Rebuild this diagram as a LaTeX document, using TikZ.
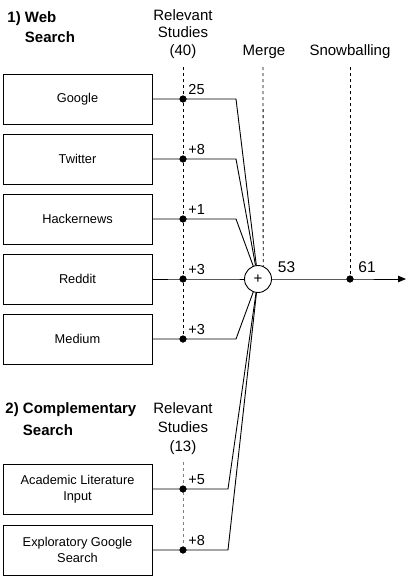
\documentclass[tikz,border=0pt]{standalone}
\usepackage{fontspec}
\setmainfont{Liberation Sans}
\usetikzlibrary{arrows.meta, positioning}

\begin{document}
\begin{tikzpicture}[x=1pt, y=-1pt, line width=0.9pt,
  every node/.style={font=\fontsize{15}{17.5}\selectfont},
  src/.style={draw, minimum width=149pt, minimum height=50pt, align=center,
              inner sep=2pt, font=\fontsize{12.8}{16.5}\selectfont},
  hit/.style={circle, fill=black, inner sep=0pt, minimum size=7pt},
  cnt/.style={anchor=base west, inner sep=0pt, xshift=5pt, yshift=5pt,
              font=\fontsize{14.5}{16}\selectfont},
  tot/.style={anchor=base west, inner sep=0pt, yshift=7pt,
              font=\fontsize{15.5}{17}\selectfont},
  hdr/.style={align=center, anchor=base, inner sep=0pt},
  sec/.style={align=left, anchor=base west, inner sep=0pt},
  guide/.style={dash pattern=on 3pt off 3pt, line width=0.9pt}]
  \useasboundingbox (0,0) rectangle (408,576);

  % Section titles and column headers
  \node[sec, font=\fontsize{15}{20}\selectfont\bfseries] (websec) at (7,42)
    {1) Web\\\phantom{1) }Search};
  \node[sec, font=\fontsize{15}{22}\selectfont\bfseries] (compsec) at (5,435)
    {2) Complementary\\\phantom{2) }Search};
  \node[hdr] (relweb) at (183,55) {Relevant\\Studies\\(40)};
  \node[hdr, font=\fontsize{15}{19}\selectfont] (relcomp) at (183,451)
    {Relevant\\Studies\\(13)};
  \node[hdr] (merge) at (264,55) {Merge};
  \node[hdr] (snow) at (350,55) {Snowballing};

  % Merge point
  \node[draw, circle, fill=white, minimum size=27pt, inner sep=0pt,
        font=\fontsize{15}{16}\selectfont] (sum) at (258,279) {+};

  % Web search sources
  \foreach \name/\txt/\y/\n in {google/Google/99/25, twitter/Twitter/159/+8,
      hacker/Hackernews/219/+1, reddit/Reddit/279/+3, medium/Medium/339/+3}{
    \node[src] (\name) at (77.5,\y) {\txt};
    \node[hit] (\name-hit) at (183,\y) {};
    \node[cnt] at (\name-hit.center) {\n};
    \coordinate (\name-bend) at (236,\y);
  }

  % Complementary search sources
  \foreach \name/\txt/\y/\n in {academic/Academic Literature\\Input/489/+5,
      explore/Exploratory Google\\Search/550/+8}{
    \node[src] (\name) at (77.5,\y) {\txt};
    \node[hit] (\name-hit) at (183,\y) {};
    \node[cnt] at (\name-hit.center) {\n};
    \coordinate (\name-bend) at (228,\y);
  }

  % Dashed guides
  \coordinate (relweb-top) at (183,67);
  \coordinate (relcomp-top) at (183,462);
  \coordinate (merge-top) at (263,67);
  \coordinate (snow-top) at (350,67);
  \node[hit] (snow-hit) at (350,279) {};
  \draw[guide] (relweb-top) -- (medium-hit.center);
  \draw[guide, gray] (relcomp-top) -- (explore-hit.center);
  \draw[guide] (merge-top) -- (sum.68);
  \draw[guide] (snow-top) -- (snow-hit.center);

  % Connectors into the merge point
  \foreach \name in {google, twitter, hacker, reddit, medium, academic, explore}
    \draw (\name) -- (\name-hit.center) -- (\name-bend) -- (sum);
  \foreach \name in {google, twitter, hacker, reddit, medium, academic, explore}
    \node[hit] at (\name-hit) {};

  % Output
  \coordinate (out) at (406,279);
  \draw[-{Triangle[length=8pt, width=6.5pt]}] (sum) -- (snow-hit.center) -- (out);
  \node[hit] at (snow-hit) {};
  \node[tot, xshift=5.5pt] at (sum.east) {53};
  \node[tot, xshift=8pt] at (snow-hit.center) {61};
\end{tikzpicture}
\end{document}
